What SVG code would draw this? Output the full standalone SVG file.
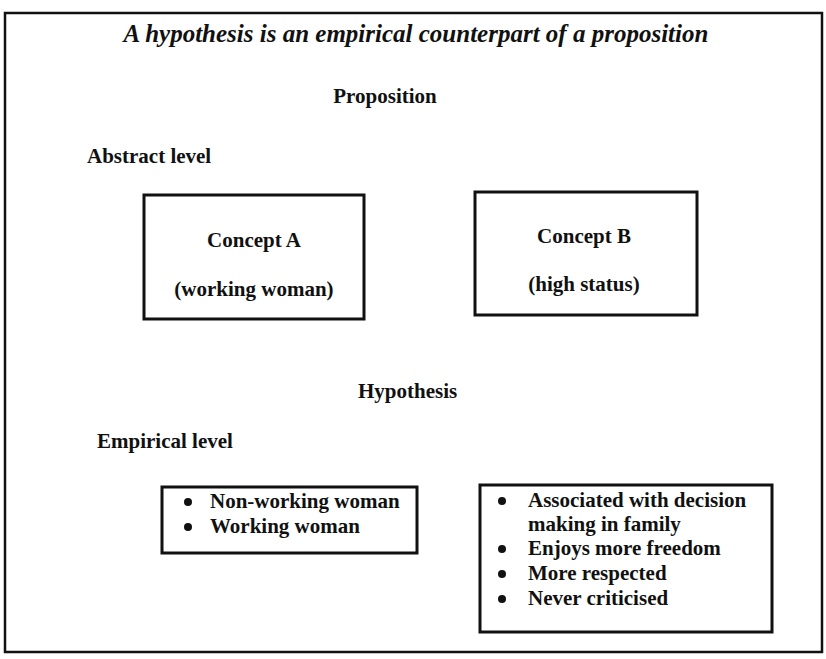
<svg xmlns="http://www.w3.org/2000/svg" width="826" height="659" viewBox="0 0 826 659">
<style>
text{font-family:"Liberation Serif","Times New Roman",serif;fill:#111;font-weight:bold;font-size:21px}
.title{font-style:italic;font-size:25px}
.c{text-anchor:middle}
.box{fill:none;stroke:#111;stroke-width:3}
</style>
<rect x="0" y="0" width="826" height="659" fill="#fff"/>
<rect x="5" y="13" width="817" height="639" fill="none" stroke="#111" stroke-width="2.5"/>
<text class="title c" x="416" y="42">A hypothesis is an empirical counterpart of a proposition</text>
<text class="c" x="385" y="103">Proposition</text>
<text x="87" y="163">Abstract level</text>
<g id="conceptA">
<rect class="box" x="144" y="195" width="220" height="124"/>
<text class="c" x="254" y="247">Concept A</text>
<text class="c" x="254" y="296">(working woman)</text>
</g>
<g id="conceptB">
<rect class="box" x="475" y="192" width="222" height="123"/>
<text class="c" x="584" y="243">Concept B</text>
<text class="c" x="584" y="291">(high status)</text>
</g>
<text x="358" y="398">Hypothesis</text>
<text x="97" y="448">Empirical level</text>
<g id="empiricalA">
<rect class="box" x="162" y="487" width="255" height="66"/>
<circle cx="188" cy="502" r="4" fill="#111"/>
<circle cx="188" cy="527" r="4" fill="#111"/>
<text x="210" y="508">Non-working woman</text>
<text x="210" y="533">Working woman</text>
</g>
<g id="empiricalB">
<rect class="box" x="480" y="485" width="292" height="147"/>
<circle cx="502" cy="501" r="4" fill="#111"/>
<circle cx="502" cy="549" r="4" fill="#111"/>
<circle cx="502" cy="574" r="4" fill="#111"/>
<circle cx="502" cy="599" r="4" fill="#111"/>
<text x="528" y="507">Associated with decision</text>
<text x="528" y="531">making in family</text>
<text x="528" y="555">Enjoys more freedom</text>
<text x="528" y="580">More respected</text>
<text x="528" y="605">Never criticised</text>
</g>
<g id="connectors"></g>
</svg>
